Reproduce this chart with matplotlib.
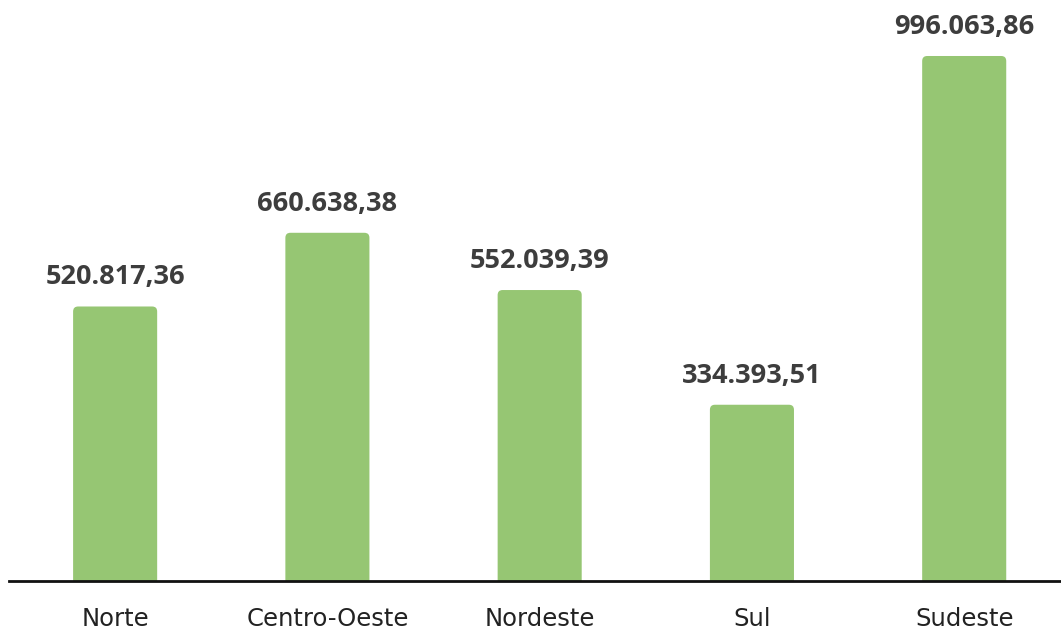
import matplotlib
matplotlib.use("Agg")
import matplotlib.pyplot as plt
from matplotlib.patches import FancyBboxPatch

# dados por região
regioes = ["Norte", "Centro-Oeste", "Nordeste", "Sul", "Sudeste"]
valores = [520817.36, 660638.38, 552039.39, 334393.51, 996063.86]
rotulos = ["520.817,36", "660.638,38", "552.039,39", "334.393,51", "996.063,86"]

verde = "#96C673"
cinza = "#3d3d3d"

plt.rcParams['font.family'] = ['Open Sans', 'DejaVu Sans']

fig = plt.figure(figsize=(10.61, 6.30), dpi=100)
ax = fig.add_axes([9 / 1061, 49 / 630, 1052 / 1061, 581 / 630])

xs = list(range(len(regioes)))
largura = 0.396
ymax = 1102300
ax.set_xlim(-0.5, 4.456)
ax.set_ylim(0, ymax)

# escala px por unidade para arredondar os cantos
px_x = 1052 / (4.456 + 0.5)
px_y = 581 / ymax
raio = 5 / px_x
aspecto = px_x / px_y

for x, v, r in zip(xs, valores, rotulos):
    caixa = FancyBboxPatch((x - largura / 2, -10 / px_y), largura, v + 10 / px_y,
                           boxstyle=f"round,pad=0,rounding_size={raio}",
                           mutation_aspect=aspecto, facecolor=verde,
                           edgecolor="none", clip_on=True)
    ax.add_patch(caixa)
    ax.text(x, v + 16 / px_y, r, ha="center", va="bottom", fontsize=19.5,
            fontweight="bold", color=cinza)

ax.set_xticks(xs)
ax.set_xticklabels(regioes, fontsize=17.5, color="#222222", family="DejaVu Sans")
ax.tick_params(axis="x", length=0, pad=18.5)
ax.set_yticks([])
for lado in ["top", "right", "left"]:
    ax.spines[lado].set_visible(False)
ax.spines["bottom"].set_linewidth(2)
ax.spines["bottom"].set_color("#111111")

fig.savefig("out.png", dpi=100)
